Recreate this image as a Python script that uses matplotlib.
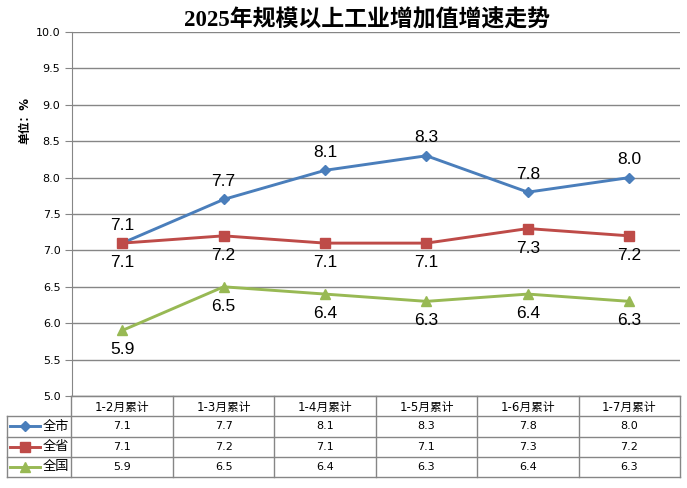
import matplotlib
matplotlib.use("Agg")
import matplotlib.pyplot as plt

plt.rcParams['font.family'] = ['DejaVu Sans', 'Noto Sans CJK SC']

categories = ['1-2月累计', '1-3月累计', '1-4月累计', '1-5月累计', '1-6月累计', '1-7月累计']
series_names = ['全市', '全省', '全国']
city = [7.1, 7.7, 8.1, 8.3, 7.8, 8.0]
province = [7.1, 7.2, 7.1, 7.1, 7.3, 7.2]
nation = [5.9, 6.5, 6.4, 6.3, 6.4, 6.3]
yticks = [5.0, 5.5, 6.0, 6.5, 7.0, 7.5, 8.0, 8.5, 9.0, 9.5, 10.0]

title = '2025年规模以上工业增加值增速走势'
ylabel = '单位：%'

colors = ['#4A7EBB', '#BE4B48', '#98B954']
markers = ['D', 's', '^']
msizes = [5.5, 7, 7]
label_offsets = [13, -14, -14]  # points, + above / - below
grid_color = '#868686'

W, H = 687, 488
fig = plt.figure(figsize=(W / 100, H / 100), dpi=100)

# plot area in pixels
px_left, px_right, px_top, px_bottom = 71.5, 680, 32, 396
ax = fig.add_axes([px_left / W, 1 - px_bottom / H, (px_right - px_left) / W, (px_bottom - px_top) / H])

x = list(range(len(categories)))
all_series = [city, province, nation]
for vals, c, m, ms, off in zip(all_series, colors, markers, msizes, label_offsets):
    ax.plot(x, vals, color=c, lw=2.1, marker=m, ms=ms, mec=c, mfc=c, zorder=3, clip_on=False)
    for xi, v in zip(x, vals):
        ax.annotate(f'{v:.1f}', (xi, v), xytext=(0, off), textcoords='offset points',
                    ha='center', va='center', fontsize=12.5, family='Liberation Sans', color='black')

ax.set_xlim(-0.5, len(categories) - 0.5)
ax.set_ylim(5.0, 10.0)
ax.set_yticks(yticks)
ax.set_yticklabels([f'{t:.1f}' for t in yticks], fontsize=8)
ax.set_xticks([])
ax.grid(axis='y', color=grid_color, lw=1)
ax.set_axisbelow(True)
for s in ['top', 'right']:
    ax.spines[s].set_visible(False)
ax.spines['left'].set_color(grid_color)
ax.spines['bottom'].set_color(grid_color)
ax.tick_params(axis='y', length=5, color=grid_color, pad=3)

fig.text(367 / W, 1 - 20 / H, title, ha='center', va='center', fontsize=16.5, fontweight='bold',
         family=['Liberation Serif', 'Noto Sans CJK SC'])
fig.text(25 / W, 1 - 120 / H, ylabel, ha='center', va='center', rotation=90, fontsize=8.5,
         fontweight='bold')

# data table under the plot
tb_left, tb_top, tb_bottom = 7, 396, 477
colw = (px_right - px_left) / len(categories)
xmin = -0.5 - (px_left - tb_left) / colw
tax = fig.add_axes([tb_left / W, 1 - tb_bottom / H, (px_right - tb_left) / W, (tb_bottom - tb_top) / H])
tax.set_xlim(xmin, len(categories) - 0.5)
tax.set_ylim(4, 0)
tax.axis('off')

xr = len(categories) - 0.5
tax.plot([-0.5, xr], [0, 0], color=grid_color, lw=1, clip_on=False)
for r in range(1, 5):
    tax.plot([xmin, xr], [r, r], color=grid_color, lw=1, clip_on=False)
for k in range(len(categories) + 1):
    tax.plot([-0.5 + k, -0.5 + k], [0, 4], color=grid_color, lw=1, clip_on=False)
tax.plot([xmin, xmin], [1, 4], color=grid_color, lw=1, clip_on=False)

for xi, cat in zip(x, categories):
    tax.text(xi, 0.55, cat, ha='center', va='center', fontsize=8.5)

cellw = -0.5 - xmin
for r, (name, vals, c, m, ms) in enumerate(zip(series_names, all_series, colors, markers, msizes)):
    yc = r + 1.5
    tax.plot([xmin + 0.05 * cellw, xmin + 0.51 * cellw], [yc, yc], color=c, lw=2.1, clip_on=False)
    tax.plot([xmin + 0.28 * cellw], [yc], marker=m, ms=ms - 0.5, color=c, clip_on=False)
    tax.text(xmin + 0.56 * cellw, yc, name, ha='left', va='center', fontsize=9.5)
    for xi, v in zip(x, vals):
        tax.text(xi, yc, f'{v:.1f}', ha='center', va='center', fontsize=8)

fig.savefig('out.png', dpi=100)
